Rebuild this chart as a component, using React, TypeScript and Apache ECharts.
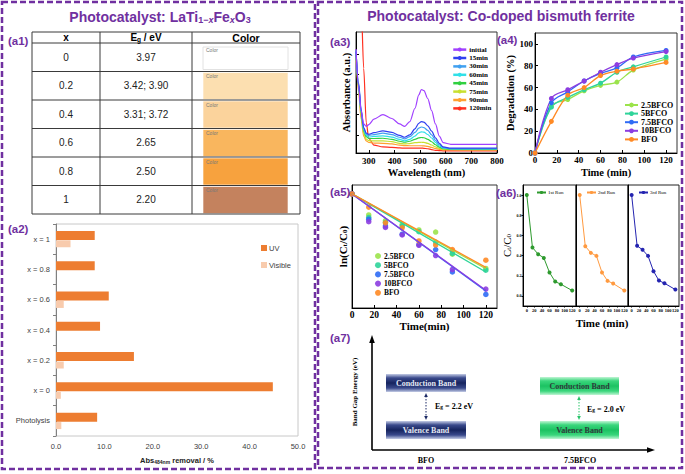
import React, { useEffect, useRef } from 'react';
import * as echarts from 'echarts';

const PURPLE = '#7030a0';
const SERIF = "'Liberation Serif', 'Times New Roman', serif";
const SANS = "'Liberation Sans', Arial, sans-serif";

// (a1) table
const tableXValues = ['0', '0.2', '0.4', '0.6', '0.8', '1'];
const tableEgValues = ['3.97', '3.42; 3.90', '3.31; 3.72', '2.65', '2.50', '2.20'];
const tableSwatches = ['#ffffff', '#fcdfb0', '#fbd39c', '#f9b65e', '#f7a23e', '#c4825e'];

// (a2) bar chart
const a2Categories = ['Photolysis', 'x = 0', 'x = 0.2', 'x = 0.4', 'x = 0.6', 'x = 0.8', 'x = 1'];
const a2UV = [8.5, 44.8, 16.1, 9.1, 10.9, 8.0, 8.0];
const a2Visible = [1.1, 1.0, 1.6, 0, 1.6, 0, 3.0];

// (a3) absorbance spectra
const a3Wavelength = [250, 260, 270, 280, 290, 300, 320, 355, 390, 420, 440, 460, 480, 495, 505, 515, 530, 545, 560, 575, 590, 620, 700, 800];
const a3Names = ['initial', '15min', '30min', '60min', '45min', '75min', '90min', '120min'];
const a3Colors = ['#a040ff', '#3040f0', '#40a0f0', '#30e0e8', '#30d040', '#c8e030', '#ffa030', '#ff3020'];
const a3Initial = [0.86, 0.55, 0.35, 0.24, 0.22, 0.235, 0.28, 0.317, 0.285, 0.24, 0.22, 0.26, 0.37, 0.48, 0.525, 0.515, 0.45, 0.35, 0.24, 0.14, 0.085, 0.072, 0.072, 0.072];
const a3Min15 = [0.84, 0.58, 0.36, 0.21, 0.165, 0.155, 0.168, 0.183, 0.17, 0.145, 0.13, 0.15, 0.2, 0.245, 0.26, 0.255, 0.225, 0.18, 0.125, 0.08, 0.05, 0.04, 0.04, 0.04];
const a3Min30 = [0.84, 0.57, 0.35, 0.2, 0.155, 0.145, 0.152, 0.164, 0.152, 0.13, 0.117, 0.135, 0.17, 0.205, 0.215, 0.21, 0.187, 0.15, 0.105, 0.068, 0.045, 0.036, 0.035, 0.035];
const a3Min60 = [0.85, 0.56, 0.34, 0.19, 0.145, 0.132, 0.137, 0.142, 0.132, 0.112, 0.1, 0.113, 0.14, 0.167, 0.175, 0.172, 0.153, 0.124, 0.088, 0.058, 0.04, 0.034, 0.033, 0.033];
const a3Min45 = [0.85, 0.55, 0.33, 0.18, 0.135, 0.12, 0.12, 0.122, 0.113, 0.097, 0.089, 0.097, 0.113, 0.125, 0.128, 0.126, 0.113, 0.093, 0.068, 0.048, 0.035, 0.031, 0.03, 0.03];
const a3Min75 = [0.84, 0.53, 0.31, 0.16, 0.115, 0.102, 0.1, 0.1, 0.094, 0.08, 0.075, 0.078, 0.085, 0.088, 0.089, 0.088, 0.08, 0.066, 0.05, 0.038, 0.031, 0.029, 0.028, 0.028];
const a3Min90 = [0.83, 0.5, 0.28, 0.14, 0.1, 0.088, 0.082, 0.08, 0.075, 0.065, 0.061, 0.06, 0.06, 0.06, 0.06, 0.059, 0.055, 0.046, 0.037, 0.03, 0.026, 0.025, 0.025, 0.025];
const a3Min120 = [1.4, 1.4, 1.25, 0.7, 0.25, 0.12, 0.065, 0.05, 0.047, 0.042, 0.04, 0.04, 0.04, 0.04, 0.04, 0.039, 0.035, 0.028, 0.022, 0.02, 0.018, 0.018, 0.018, 0.018];
const a3XTicks = [300, 400, 500, 600, 700, 800];

// (a4) degradation
const timeMin = [0, 15, 30, 45, 60, 75, 90, 120];
const timeTicks = [0, 20, 40, 60, 80, 100, 120];
const sampleNames = ['2.5BFCO', '5BFCO', '7.5BFCO', '10BFCO', 'BFO'];
const sampleColors = ['#9be34b', '#2fd49a', '#2f6bf5', '#8c3de0', '#ff8a25'];
const a4Deg25 = [0, 43, 49, 57, 62, 65, 76, 86];
const a4Deg5 = [0, 42, 51, 58, 64, 74, 79, 88];
const a4Deg75 = [0, 46, 56, 66, 73, 78, 88, 94];
const a4Deg10 = [0, 50, 58, 66, 74, 81, 87, 93];
const a4DegBFO = [0, 29, 53, 60, 71, 75, 77, 83];
const a4YTicks = [0, 20, 40, 60, 80, 100];

// (a5) ln(Ct/C0)
const a5Ln25 = [0, -0.59, -0.75, -0.86, -1.01, -1.07, -1.69, -2.09];
const a5Ln5 = [0, -0.66, -0.8, -0.9, -1.06, -1.35, -1.67, -2.14];
const a5Ln75 = [0, -0.71, -0.9, -1.13, -1.42, -1.56, -2.19, -2.82];
const a5Ln10 = [0, -0.78, -0.94, -1.15, -1.44, -1.73, -2.12, -2.67];
const a5LnBFO = [0, -0.37, -0.81, -0.95, -1.32, -1.43, -1.56, -1.86];
const a5FitEnd = [-2.1, -2.19, -2.72, -2.7, -2.06];

// (a6) recycling runs
const a6Runs = ['1st Run', '2nd Run', '3rd Run'];
const a6Colors = ['#2e9a2e', '#ff9a40', '#2424b0'];
const a6Run1 = [1.0, 0.48, 0.414, 0.377, 0.232, 0.142, 0.116, 0.053];
const a6Run2 = [1.0, 0.493, 0.427, 0.397, 0.232, 0.149, 0.123, 0.053];
const a6Run3 = [1.0, 0.497, 0.457, 0.397, 0.245, 0.152, 0.126, 0.063];
const a6YTicks = [0, 0.2, 0.4, 0.6, 0.8, 1.0];

// (a7) band gap
const a7Materials = ['BFO', '7.5BFCO'];
const a7Gaps = [2.2, 2.0];

const subRich = (size: number, family: string, weight: string, fill: string) => ({
  s: { fontSize: size, fontFamily: family, fontWeight: weight, fill, color: fill, verticalAlign: 'bottom', lineHeight: size * 0.45 },
  si: { fontSize: size, fontFamily: family, fontWeight: weight, fontStyle: 'italic', fill, color: fill, verticalAlign: 'bottom', lineHeight: size * 0.45 },
});

const T = (x: number, y: number, text: string, size: number, o: any = {}) => ({
  type: 'text',
  x,
  y,
  rotation: o.rotation || 0,
  z: 20,
  style: {
    text,
    fontSize: size,
    fontWeight: o.weight || 'normal',
    fontFamily: o.family || SANS,
    fill: o.fill || '#000',
    align: o.align || 'center',
    verticalAlign: o.vAlign || 'middle',
    rich: o.rich,
  },
});

function buildGraphics(): any[] {
  const g: any[] = [];
  const dash = { fill: 'none', stroke: PURPLE, lineWidth: 2.5, lineDash: [6, 3] };
  g.push({ type: 'rect', z: 5, shape: { x: 2, y: 2, width: 313, height: 467 }, style: dash });
  g.push({ type: 'rect', z: 5, shape: { x: 318, y: 2, width: 364, height: 466 }, style: dash });

  g.push(T(160, 17, 'Photocatalyst: LaTi{s|1−}{si|x}Fe{si|x}O{s|3}', 14, {
    weight: 'bold', fill: PURPLE, rich: subRich(9, SANS, 'bold', PURPLE),
  }));
  g.push(T(501, 16, 'Photocatalyst: Co-doped bismuth ferrite', 14, { weight: 'bold', fill: PURPLE }));

  const labels: [string, number, number][] = [
    ['(a1)', 8, 41], ['(a2)', 8, 229], ['(a3)', 330, 42], ['(a4)', 497, 40],
    ['(a5)', 330, 192], ['(a6)', 496, 193], ['(a7)', 330, 338],
  ];
  labels.forEach(([t, x, y]) => g.push(T(x, y, t, 11.5, { weight: 'bold', fill: PURPLE, align: 'left' })));

  // (a1) table
  const tx0 = 32, tx1 = 300, ty0 = 32, hy = 43, ty1 = 214;
  const c1 = 100, c2 = 192;
  const rowH = (ty1 - hy) / tableXValues.length;
  const lineStyle = { stroke: '#3a3a3a', lineWidth: 1 };
  tableXValues.forEach((xv, i) => {
    const top = hy + i * rowH;
    const cy = top + rowH / 2;
    const sw = tableSwatches[i];
    if (i === 0) {
      g.push({ type: 'rect', z: 8, shape: { x: 203, y: top + 4, width: 85, height: rowH - 6 }, style: { fill: sw, stroke: '#e2e2e2', lineWidth: 1 } });
    } else {
      g.push({ type: 'rect', z: 8, shape: { x: 203, y: top + 1, width: 85, height: rowH - 1.5 }, style: { fill: sw, stroke: 'rgba(255,255,255,0.6)', lineWidth: 1 } });
    }
    g.push(T(206, top + (i === 0 ? 7 : 4.5), 'Color', 5, { fill: '#7a7a7a', align: 'left' }));
    g.push(T((tx0 + c1) / 2, cy, xv, 10, { fill: '#222' }));
    g.push(T((c1 + c2) / 2, cy, tableEgValues[i], 10, { fill: '#222' }));
    if (i > 0) g.push({ type: 'line', z: 9, shape: { x1: tx0, y1: top, x2: tx1, y2: top }, style: lineStyle });
  });
  g.push({ type: 'rect', z: 9, shape: { x: tx0, y: ty0, width: tx1 - tx0, height: ty1 - ty0 }, style: { fill: 'none', ...lineStyle } });
  g.push({ type: 'line', z: 9, shape: { x1: tx0, y1: hy, x2: tx1, y2: hy }, style: lineStyle });
  g.push({ type: 'line', z: 9, shape: { x1: c1, y1: ty0, x2: c1, y2: ty1 }, style: lineStyle });
  g.push({ type: 'line', z: 9, shape: { x1: c2, y1: ty0, x2: c2, y2: ty1 }, style: lineStyle });
  g.push(T((tx0 + c1) / 2, (ty0 + hy) / 2, 'x', 10, { weight: 'bold' }));
  g.push(T((c1 + c2) / 2, (ty0 + hy) / 2, 'E{s|g} / eV', 10, { weight: 'bold', rich: subRich(6.5, SANS, 'bold', '#000') }));
  g.push(T((c2 + tx1) / 2, (ty0 + hy) / 2, 'Color', 10.5, { weight: 'bold' }));

  // (a7) band diagram
  const axX = 372, axY = 450;
  g.push({ type: 'line', z: 10, shape: { x1: axX, y1: axY, x2: axX, y2: 340 }, style: { stroke: '#000', lineWidth: 1.6 } });
  g.push({ type: 'polygon', z: 10, shape: { points: [[axX, 335], [axX - 2.8, 343], [axX + 2.8, 343]] }, style: { fill: '#000' } });
  g.push({ type: 'line', z: 10, shape: { x1: axX, y1: axY, x2: 649, y2: axY }, style: { stroke: '#000', lineWidth: 1.6 } });
  g.push({ type: 'polygon', z: 10, shape: { points: [[655, axY], [647, axY - 2.8], [647, axY + 2.8]] }, style: { fill: '#000' } });
  g.push(T(355, 392, 'Band Gap Energy (eV)', 7, { family: SERIF, weight: 'bold', rotation: Math.PI / 2 }));

  const bandDefs = [
    { x: 386, w: 80, cTop: 374, vTop: 421, h: 18, ax: 426, tx: 435, ty: 406,
      grad: ['#c4cce6', '#3a4a8c', '#16245e', '#3a4a8c', '#c4cce6'], text: '#e4e8f4', arrow: '#1d2b66' },
    { x: 540, w: 79, cTop: 377, vTop: 421, h: 18, ax: 579, tx: 587, ty: 409,
      grad: ['#c0f5d4', '#3ad67c', '#1cc262', '#3ad67c', '#c0f5d4'], text: '#2e3a3a', arrow: '#28c46a' },
  ];
  bandDefs.forEach((b, i) => {
    const fill = {
      type: 'linear', x: 0, y: 0, x2: 0, y2: 1,
      colorStops: b.grad.map((c, k) => ({ offset: [0, 0.22, 0.5, 0.78, 1][k], color: c })),
    };
    g.push({ type: 'rect', z: 10, shape: { x: b.x, y: b.cTop, width: b.w, height: b.h }, style: { fill } });
    g.push({ type: 'rect', z: 10, shape: { x: b.x, y: b.vTop, width: b.w, height: b.h }, style: { fill } });
    g.push(T(b.x + b.w / 2, b.cTop + b.h / 2, 'Conduction Band', 8, { family: SERIF, weight: 'bold', fill: b.text }));
    g.push(T(b.x + b.w / 2, b.vTop + b.h / 2, 'Valence Band', 8, { family: SERIF, weight: 'bold', fill: b.text }));
    const y1 = b.cTop + b.h + 1, y2 = b.vTop - 1;
    g.push({ type: 'line', z: 10, shape: { x1: b.ax, y1: y1 + 3, x2: b.ax, y2: y2 - 3 }, style: { stroke: b.arrow, lineWidth: 1, lineDash: [1.5, 1.5] } });
    g.push({ type: 'polygon', z: 10, shape: { points: [[b.ax, y1], [b.ax - 1.8, y1 + 4], [b.ax + 1.8, y1 + 4]] }, style: { fill: b.arrow } });
    g.push({ type: 'polygon', z: 10, shape: { points: [[b.ax, y2], [b.ax - 1.8, y2 - 4], [b.ax + 1.8, y2 - 4]] }, style: { fill: b.arrow } });
    g.push(T(b.tx, b.ty, 'E{s|g} = ' + a7Gaps[i].toFixed(1) + ' eV', 8, {
      family: SERIF, weight: 'bold', align: 'left', rich: subRich(5.5, SERIF, 'bold', '#000'),
    }));
    g.push(T(i === 0 ? 426 : 580, 460.5, a7Materials[i], 8, { family: SERIF, weight: 'bold' }));
  });
  return g;
}

function buildOption(): any {
  const serifLabel = (size: number) => ({ fontFamily: SERIF, fontWeight: 'bold', fontSize: size, color: '#000' });
  const blackLine = { onZero: false, lineStyle: { color: '#000', width: 1 } };

  const grids = [
    { left: 56, top: 224, width: 242, height: 212, show: true, borderColor: '#c8c8c8', borderWidth: 1 },
    { left: 356, top: 32, width: 141, height: 121, show: true, borderColor: '#333', borderWidth: 1 },
    { left: 535, top: 33, width: 142, height: 120, show: true, borderColor: '#333', borderWidth: 1 },
    { left: 352, top: 185, width: 145, height: 123, show: true, borderColor: '#333', borderWidth: 1 },
    { left: 523, top: 185, width: 53, height: 121, show: true, borderColor: '#222', borderWidth: 1 },
    { left: 576, top: 185, width: 52, height: 121, show: true, borderColor: '#222', borderWidth: 1 },
    { left: 628, top: 185, width: 51, height: 121, show: true, borderColor: '#222', borderWidth: 1 },
  ];

  const a6X = (gi: number, named: boolean) => ({
    type: 'value', gridIndex: gi, min: -10, max: 130,
    axisLine: { show: true, ...blackLine }, splitLine: { show: false },
    axisTick: { show: true, customValues: timeTicks, length: 1.5, lineStyle: { color: '#000' } },
    axisLabel: { customValues: timeTicks, fontFamily: SERIF, fontWeight: 'bold', fontSize: 4.5, color: '#000', margin: 2 },
    name: named ? 'Time (min)' : '', nameLocation: 'middle', nameGap: 11,
    nameTextStyle: serifLabel(11),
  });
  const a6Y = (gi: number, labeled: boolean) => ({
    type: 'value', gridIndex: gi, min: -0.1, max: 1.1,
    axisLine: { show: true, ...blackLine }, splitLine: { show: false },
    axisTick: { show: labeled, customValues: a6YTicks, length: 1.5, lineStyle: { color: '#000' } },
    axisLabel: { show: labeled, customValues: a6YTicks, formatter: (v: number) => v.toFixed(1), fontFamily: SERIF, fontWeight: 'bold', fontSize: 4, color: '#000', margin: 1.5 },
    name: labeled ? 'C{s|t}/C{s|0}' : '', nameLocation: 'middle', nameGap: 7,
    nameTextStyle: { fontFamily: SERIF, fontSize: 11, color: '#000', rich: subRich(7, SERIF, 'normal', '#000') },
  });

  const xAxis = [
    {
      type: 'value', gridIndex: 0, min: 0, max: 50, interval: 10,
      axisLine: { show: false }, axisTick: { show: false }, splitLine: { show: false },
      axisLabel: { formatter: (v: number) => v.toFixed(1), fontFamily: SANS, fontSize: 7.5, color: '#404040', margin: 6 },
      name: 'Abs{s|484nm} removal / %', nameLocation: 'middle', nameGap: 20,
      nameTextStyle: { fontFamily: SANS, fontWeight: 'bold', fontSize: 7.5, color: '#222', rich: subRich(5, SANS, 'bold', '#222') },
    },
    {
      type: 'value', gridIndex: 1, min: 250, max: 800,
      axisLine: { show: true, ...blackLine }, splitLine: { show: false },
      axisTick: { show: true, inside: true, customValues: a3XTicks, length: 3, lineStyle: { color: '#000' } },
      axisLabel: { customValues: a3XTicks, ...serifLabel(9), margin: 3 },
      name: 'Wavelength (nm)', nameLocation: 'middle', nameGap: 14, nameTextStyle: serifLabel(10.5),
    },
    {
      type: 'value', gridIndex: 2, min: 0, max: 130,
      axisLine: { show: true, ...blackLine }, splitLine: { show: false },
      axisTick: { show: true, inside: true, customValues: timeTicks, length: 3, lineStyle: { color: '#000' } },
      axisLabel: { customValues: timeTicks, ...serifLabel(9), margin: 2 },
      name: 'Time (min)', nameLocation: 'middle', nameGap: 14, nameTextStyle: serifLabel(10.5),
    },
    {
      type: 'value', gridIndex: 3, min: 0, max: 130,
      axisLine: { show: true, ...blackLine }, splitLine: { show: false },
      axisTick: { show: true, inside: true, customValues: timeTicks, length: 3, lineStyle: { color: '#000' } },
      axisLabel: { customValues: timeTicks, ...serifLabel(9.5), margin: 1.5 },
      name: 'Time(min)', nameLocation: 'middle', nameGap: 12, nameTextStyle: serifLabel(11),
    },
    a6X(4, false), a6X(5, true), a6X(6, false),
  ];

  const yAxis = [
    {
      type: 'category', gridIndex: 0, data: a2Categories,
      axisLine: { show: true, onZero: false, lineStyle: { color: '#808080' } },
      axisTick: { show: true, length: 3, lineStyle: { color: '#808080' } },
      axisLabel: { fontFamily: SANS, fontSize: 7.5, color: '#404040', margin: 6 },
    },
    {
      type: 'value', gridIndex: 1, min: 0, max: 1,
      axisLine: { show: true, ...blackLine }, splitLine: { show: false },
      axisTick: { show: true, inside: true, customValues: [0.15, 0.317, 0.483, 0.65, 0.817], length: 3, lineStyle: { color: '#000' } },
      axisLabel: { show: false },
      name: 'Absorbance (a.u.)', nameLocation: 'middle', nameGap: 4, nameTextStyle: serifLabel(10.5),
    },
    {
      type: 'value', gridIndex: 2, min: 0, max: 110,
      axisLine: { show: true, ...blackLine }, splitLine: { show: false },
      axisTick: { show: true, inside: true, customValues: a4YTicks, length: 3, lineStyle: { color: '#000' } },
      axisLabel: { customValues: a4YTicks, ...serifLabel(9), margin: 2 },
      name: 'Degradation (%)', nameLocation: 'middle', nameGap: 17, nameTextStyle: serifLabel(10.5),
    },
    {
      type: 'value', gridIndex: 3, min: -3.2, max: 0.25,
      axisLine: { show: true, ...blackLine }, splitLine: { show: false },
      axisTick: { show: false }, axisLabel: { show: false },
      name: 'ln(C{s|t}/C{s|0})', nameLocation: 'middle', nameGap: 3.5,
      nameTextStyle: { ...serifLabel(11), rich: subRich(7, SERIF, 'bold', '#000') },
    },
    a6Y(4, true), a6Y(5, false), a6Y(6, false),
  ];

  const series: any[] = [];
  series.push({ type: 'bar', name: 'UV', xAxisIndex: 0, yAxisIndex: 0, data: a2UV, barWidth: 9, barGap: '5%', itemStyle: { color: '#ed7d31' } });
  series.push({ type: 'bar', name: 'Visible', xAxisIndex: 0, yAxisIndex: 0, data: a2Visible, barWidth: 7, barGap: '5%', itemStyle: { color: '#f8cbad' } });

  const a3Data = [a3Initial, a3Min15, a3Min30, a3Min60, a3Min45, a3Min75, a3Min90, a3Min120];
  a3Data.forEach((arr, i) => {
    series.push({
      type: 'line', name: a3Names[i], xAxisIndex: 1, yAxisIndex: 1, showSymbol: false, symbol: 'none',
      smooth: 0.3, smoothMonotone: 'x', clip: true,
      data: arr.map((v, k) => [a3Wavelength[k], v]),
      lineStyle: { color: a3Colors[i], width: 1.2 }, itemStyle: { color: a3Colors[i] }, z: 10 - i,
    });
  });

  const a4Data = [a4Deg25, a4Deg5, a4Deg75, a4Deg10, a4DegBFO];
  a4Data.forEach((arr, i) => {
    series.push({
      type: 'line', name: sampleNames[i], xAxisIndex: 2, yAxisIndex: 2, smooth: 0.35,
      symbol: 'circle', symbolSize: 5,
      data: arr.map((v, k) => [timeMin[k], v]),
      lineStyle: { color: sampleColors[i], width: 1.3 }, itemStyle: { color: sampleColors[i] },
    });
  });

  const a5Data = [a5Ln25, a5Ln5, a5Ln75, a5Ln10, a5LnBFO];
  a5Data.forEach((arr, i) => {
    series.push({
      type: 'line', name: 'fit:' + sampleNames[i], xAxisIndex: 3, yAxisIndex: 3, symbol: 'none',
      data: [[timeMin[0], 0], [timeMin[timeMin.length - 1], a5FitEnd[i]]],
      lineStyle: { color: sampleColors[i], width: 1.3 }, itemStyle: { color: sampleColors[i] },
    });
  });
  a5Data.forEach((arr, i) => {
    series.push({
      type: 'scatter', name: 'a5:' + sampleNames[i], xAxisIndex: 3, yAxisIndex: 3, symbolSize: 5.5,
      data: arr.map((v, k) => [timeMin[k], v]), itemStyle: { color: sampleColors[i], opacity: 0.9 },
    });
  });

  const a6Data = [a6Run1, a6Run2, a6Run3];
  a6Data.forEach((arr, i) => {
    series.push({
      type: 'line', name: a6Runs[i], xAxisIndex: 4 + i, yAxisIndex: 4 + i, symbol: 'circle', symbolSize: 4,
      data: arr.map((v, k) => [timeMin[k], v]),
      lineStyle: { color: a6Colors[i], width: 1 }, itemStyle: { color: a6Colors[i] },
    });
  });

  const legend = [
    {
      data: ['UV', 'Visible'], left: 256, top: 239, orient: 'vertical', itemGap: 9, itemWidth: 6, itemHeight: 6, icon: 'rect',
      textStyle: { fontFamily: SANS, fontSize: 7.5, color: '#404040', padding: [0, 0, 0, -3] },
    },
    {
      data: a3Names, left: 452, top: 46, orient: 'vertical', itemGap: 1.2, itemWidth: 13, itemHeight: 5, padding: 0,
      lineStyle: { width: 2.5 },
      textStyle: { ...serifLabel(7), lineHeight: 7.2, padding: [0, 0, 0, -2] },
    },
    {
      data: sampleNames, left: 624, top: 101, orient: 'vertical', itemGap: 0.6, itemWidth: 13, itemHeight: 6, padding: 0,
      textStyle: { ...serifLabel(8), lineHeight: 7.6, padding: [0, 0, 0, -2] },
    },
    {
      data: sampleNames.map((n) => 'a5:' + n), formatter: (n: string) => n.replace('a5:', ''),
      left: 375, top: 252, orient: 'vertical', itemGap: 1.2, itemWidth: 6, itemHeight: 6, padding: 0,
      textStyle: { ...serifLabel(7.5), lineHeight: 7.6, padding: [0, 0, 0, -2] },
    },
    ...a6Runs.map((r, i) => ({
      data: [r], left: [536, 586, 638][i], top: 190, itemWidth: 9, itemHeight: 4, padding: 0,
      textStyle: { fontFamily: SERIF, fontSize: 5, color: '#000', padding: [0, 0, 0, -3] },
    })),
  ];

  return {
    animation: false,
    backgroundColor: '#ffffff',
    grid: grids,
    xAxis,
    yAxis,
    series,
    legend,
    graphic: buildGraphics(),
  };
}

export default function App() {
  const ref = useRef<HTMLDivElement>(null);
  useEffect(() => {
    if (!ref.current) return;
    const chart = echarts.init(ref.current, undefined, { renderer: 'svg' });
    chart.setOption(buildOption());
    return () => chart.dispose();
  }, []);
  return (
    <div
      ref={ref}
      style={{ position: 'absolute', left: 0, top: 0, width: 685, height: 474, background: '#fff' }}
    />
  );
}
